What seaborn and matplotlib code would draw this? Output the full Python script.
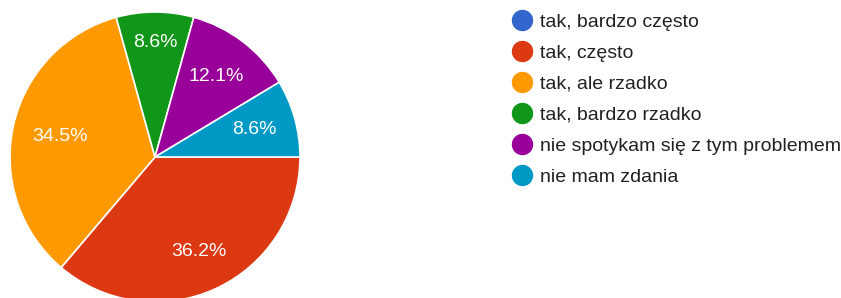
import matplotlib
matplotlib.use("Agg")
import numpy as np
import matplotlib.pyplot as plt
from matplotlib.lines import Line2D
import seaborn as sns

# survey answers (counts out of 58 responses)
categories = ["tak, bardzo często", "tak, często", "tak, ale rzadko",
              "tak, bardzo rzadko", "nie spotykam się z tym problemem", "nie mam zdania"]
counts = [0, 21, 20, 5, 7, 5]
colors = ["#3366cc", "#dc3912", "#ff9900", "#109618", "#990099", "#0099c6"]
# how far out each percent label sits (fraction of radius)
label_dist = [0.72, 0.72, 0.67, 0.79, 0.70, 0.71]

sns.set_theme(style="white")
plt.rcParams["font.family"] = ["Liberation Sans", "DejaVu Sans"]

fig = plt.figure(figsize=(8.41, 2.98), dpi=100)
ax = fig.add_axes([10 / 841, -4 / 298, 290 / 841, 290 / 298])

wedges, texts, autotexts = ax.pie(
    counts, colors=colors, startangle=0, counterclock=False, radius=1,
    autopct=lambda p: f"{p:.1f}%" if p > 0 else "", pctdistance=0.72,
    wedgeprops=dict(edgecolor="white", linewidth=1.2),
    textprops=dict(color="white", fontsize=14))

# nudge labels along the wedge's middle angle
for w, t, d in zip(wedges, autotexts, label_dist):
    ang = np.deg2rad((w.theta1 + w.theta2) / 2)
    t.set_position((d * np.cos(ang), d * np.sin(ang)))

ax.set_xlim(-1, 1)
ax.set_ylim(-1, 1)
ax.set_aspect("equal")

# legend with round markers
handles = [Line2D([0], [0], marker="o", linestyle="", markersize=14.4,
                  markerfacecolor=c, markeredgecolor=c) for c in colors]
fig.legend(handles, categories, loc="upper left",
           bbox_to_anchor=(512 / 841, 1 - 13.5 / 298), frameon=False,
           fontsize=14, labelspacing=0.685, handlelength=1.0,
           handletextpad=0.43, borderpad=0, borderaxespad=0,
           labelcolor="#212121")

fig.savefig("out.png", dpi=100)
